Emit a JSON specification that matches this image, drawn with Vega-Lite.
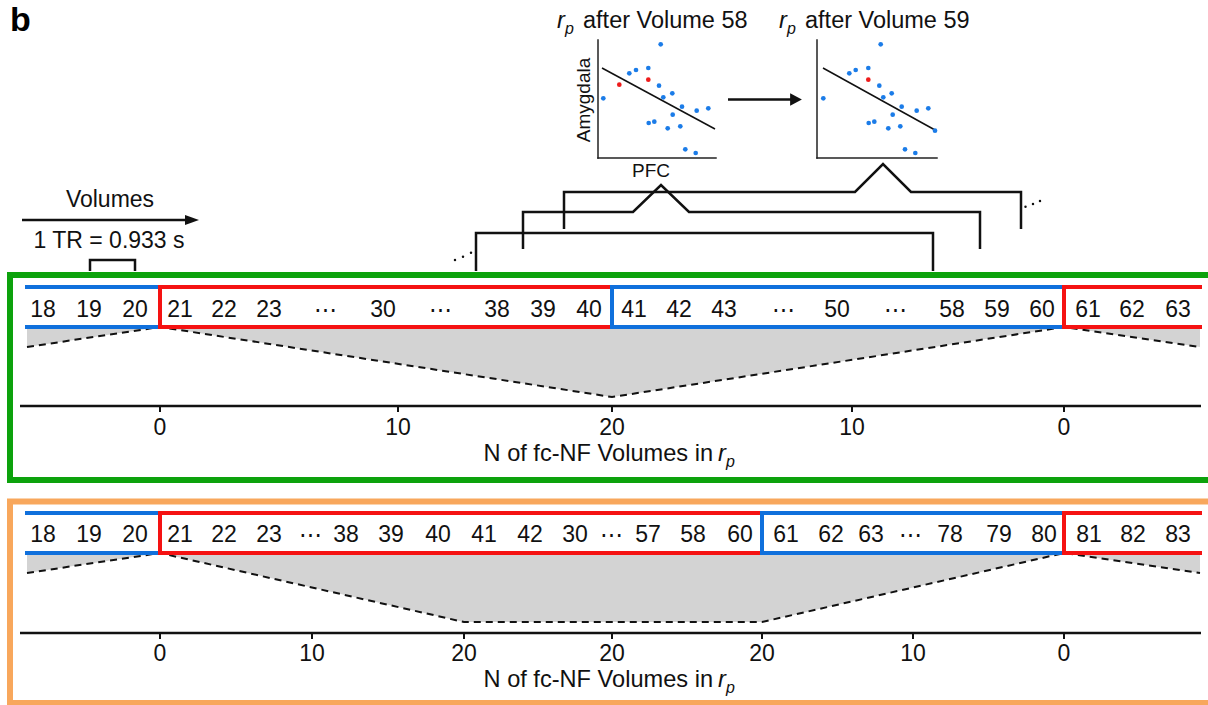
{
  "$schema": "https://vega.github.io/schema/vega-lite/v6.json",
  "width": 1208,
  "height": 705,
  "autosize": {"type": "fit", "contains": "padding"},
  "padding": 0,
  "background": "white",
  "config": {"view": {"stroke": null}, "font": "Liberation Sans"},
  "resolve": {"scale": {"color": "independent"}},
  "datasets": {
    "panels": [
      {"panel": "top", "x": 10, "x2": 1225, "y": 275, "y2": 480},
      {"panel": "bottom", "x": 10, "x2": 1225, "y": 501.5, "y2": 703}
    ],
    "blocks": [
      {"panel": "top", "block": "rest", "x": 27, "x2": 160, "y": 287, "y2": 287},
      {"panel": "top", "block": "rest", "x": 27, "x2": 160, "y": 327, "y2": 327},
      {"panel": "top", "block": "fc-NF", "x": 160, "x2": 612, "y": 287, "y2": 287},
      {"panel": "top", "block": "fc-NF", "x": 160, "x2": 612, "y": 327, "y2": 327},
      {"panel": "top", "block": "fc-NF", "x": 160, "x2": 160, "y": 287, "y2": 327},
      {"panel": "top", "block": "rest", "x": 612, "x2": 1064, "y": 287, "y2": 287},
      {"panel": "top", "block": "rest", "x": 612, "x2": 1064, "y": 327, "y2": 327},
      {"panel": "top", "block": "rest", "x": 612, "x2": 612, "y": 287, "y2": 327},
      {"panel": "top", "block": "fc-NF", "x": 1064, "x2": 1200, "y": 287, "y2": 287},
      {"panel": "top", "block": "fc-NF", "x": 1064, "x2": 1200, "y": 327, "y2": 327},
      {"panel": "top", "block": "fc-NF", "x": 1064, "x2": 1064, "y": 287, "y2": 327},
      {"panel": "bottom", "block": "rest", "x": 27, "x2": 160, "y": 513, "y2": 513},
      {"panel": "bottom", "block": "rest", "x": 27, "x2": 160, "y": 553, "y2": 553},
      {"panel": "bottom", "block": "fc-NF", "x": 160, "x2": 762, "y": 513, "y2": 513},
      {"panel": "bottom", "block": "fc-NF", "x": 160, "x2": 762, "y": 553, "y2": 553},
      {"panel": "bottom", "block": "fc-NF", "x": 160, "x2": 160, "y": 513, "y2": 553},
      {"panel": "bottom", "block": "rest", "x": 762, "x2": 1064, "y": 513, "y2": 513},
      {"panel": "bottom", "block": "rest", "x": 762, "x2": 1064, "y": 553, "y2": 553},
      {"panel": "bottom", "block": "rest", "x": 762, "x2": 762, "y": 513, "y2": 553},
      {"panel": "bottom", "block": "fc-NF", "x": 1064, "x2": 1200, "y": 513, "y2": 513},
      {"panel": "bottom", "block": "fc-NF", "x": 1064, "x2": 1200, "y": 553, "y2": 553},
      {"panel": "bottom", "block": "fc-NF", "x": 1064, "x2": 1064, "y": 513, "y2": 553}
    ],
    "gray": [
      {"panel": "top", "x": 27, "y": 347, "y0": 327},
      {"panel": "top", "x": 160, "y": 327, "y0": 327},
      {"panel": "top", "x": 612, "y": 397, "y0": 327},
      {"panel": "top", "x": 1064, "y": 327, "y0": 327},
      {"panel": "top", "x": 1200, "y": 347, "y0": 327},
      {"panel": "bottom", "x": 27, "y": 573, "y0": 553},
      {"panel": "bottom", "x": 160, "y": 553, "y0": 553},
      {"panel": "bottom", "x": 464, "y": 622, "y0": 553},
      {"panel": "bottom", "x": 762, "y": 622, "y0": 553},
      {"panel": "bottom", "x": 1064, "y": 553, "y0": 553},
      {"panel": "bottom", "x": 1200, "y": 573, "y0": 553}
    ],
    "cells": [
      {"label": "18", "x": 43, "y": 317}, {"label": "19", "x": 89, "y": 317}, {"label": "20", "x": 135, "y": 317},
      {"label": "21", "x": 180, "y": 317}, {"label": "22", "x": 224, "y": 317}, {"label": "23", "x": 269, "y": 317},
      {"label": "⋯", "x": 325, "y": 317}, {"label": "30", "x": 383, "y": 317}, {"label": "⋯", "x": 440, "y": 317},
      {"label": "38", "x": 497, "y": 317}, {"label": "39", "x": 543, "y": 317}, {"label": "40", "x": 589, "y": 317},
      {"label": "41", "x": 634, "y": 317}, {"label": "42", "x": 679, "y": 317}, {"label": "43", "x": 724, "y": 317},
      {"label": "⋯", "x": 783, "y": 317}, {"label": "50", "x": 837, "y": 317}, {"label": "⋯", "x": 895, "y": 317},
      {"label": "58", "x": 952, "y": 317}, {"label": "59", "x": 997, "y": 317}, {"label": "60", "x": 1042, "y": 317},
      {"label": "61", "x": 1088, "y": 317}, {"label": "62", "x": 1132, "y": 317}, {"label": "63", "x": 1178, "y": 317},
      {"label": "18", "x": 43, "y": 541.5}, {"label": "19", "x": 89, "y": 541.5}, {"label": "20", "x": 135, "y": 541.5},
      {"label": "21", "x": 180, "y": 541.5}, {"label": "22", "x": 224, "y": 541.5}, {"label": "23", "x": 269, "y": 541.5},
      {"label": "⋯", "x": 310, "y": 541.5}, {"label": "38", "x": 346, "y": 541.5}, {"label": "39", "x": 391, "y": 541.5},
      {"label": "40", "x": 438, "y": 541.5}, {"label": "41", "x": 484, "y": 541.5}, {"label": "42", "x": 530, "y": 541.5},
      {"label": "30", "x": 575, "y": 541.5}, {"label": "⋯", "x": 611, "y": 541.5}, {"label": "57", "x": 648, "y": 541.5},
      {"label": "58", "x": 693, "y": 541.5}, {"label": "60", "x": 740, "y": 541.5}, {"label": "61", "x": 786, "y": 541.5},
      {"label": "62", "x": 831, "y": 541.5}, {"label": "63", "x": 871, "y": 541.5}, {"label": "⋯", "x": 910, "y": 541.5},
      {"label": "78", "x": 950, "y": 541.5}, {"label": "79", "x": 999, "y": 541.5}, {"label": "80", "x": 1044, "y": 541.5},
      {"label": "81", "x": 1089, "y": 541.5}, {"label": "82", "x": 1133, "y": 541.5}, {"label": "83", "x": 1178, "y": 541.5}
    ],
    "axisLines": [
      {"x": 20, "x2": 1201, "y": 406, "y2": 406},
      {"x": 20, "x2": 1201, "y": 633, "y2": 633}
    ],
    "ticks": [
      {"x": 160, "x2": 160, "y": 406, "y2": 412, "label": "0", "ly": 435},
      {"x": 398, "x2": 398, "y": 406, "y2": 412, "label": "10", "ly": 435},
      {"x": 612, "x2": 612, "y": 406, "y2": 412, "label": "20", "ly": 435},
      {"x": 852, "x2": 852, "y": 406, "y2": 412, "label": "10", "ly": 435},
      {"x": 1064, "x2": 1064, "y": 406, "y2": 412, "label": "0", "ly": 435},
      {"x": 160, "x2": 160, "y": 633, "y2": 639, "label": "0", "ly": 661},
      {"x": 312, "x2": 312, "y": 633, "y2": 639, "label": "10", "ly": 661},
      {"x": 464, "x2": 464, "y": 633, "y2": 639, "label": "20", "ly": 661},
      {"x": 612, "x2": 612, "y": 633, "y2": 639, "label": "20", "ly": 661},
      {"x": 762, "x2": 762, "y": 633, "y2": 639, "label": "20", "ly": 661},
      {"x": 913, "x2": 913, "y": 633, "y2": 639, "label": "10", "ly": 661},
      {"x": 1064, "x2": 1064, "y": 633, "y2": 639, "label": "0", "ly": 661}
    ],
    "axisTitles": [
      {"label": "N of fc-NF Volumes in", "x": 713, "y": 461},
      {"label": "N of fc-NF Volumes in", "x": 713, "y": 687}
    ],
    "rLetters": [
      {"label": "r", "x": 718, "y": 461},
      {"label": "r", "x": 718, "y": 687},
      {"label": "r", "x": 557, "y": 28},
      {"label": "r", "x": 779, "y": 28}
    ],
    "pLetters": [
      {"label": "p", "x": 726, "y": 467},
      {"label": "p", "x": 726, "y": 693},
      {"label": "p", "x": 565, "y": 34},
      {"label": "p", "x": 787, "y": 34}
    ],
    "scatterTitles": [
      {"label": "after Volume 58", "x": 583, "y": 28},
      {"label": "after Volume 59", "x": 805, "y": 28}
    ],
    "centerTexts": [
      {"label": "Volumes", "x": 110, "y": 207},
      {"label": "1 TR = 0.933 s", "x": 109, "y": 248}
    ],
    "brackets": [
      {"id": 0, "seq": 0, "x": 90, "y": 271}, {"id": 0, "seq": 1, "x": 90, "y": 260},
      {"id": 0, "seq": 2, "x": 135, "y": 260}, {"id": 0, "seq": 3, "x": 135, "y": 271},
      {"id": 1, "seq": 0, "x": 476, "y": 271}, {"id": 1, "seq": 1, "x": 476, "y": 233},
      {"id": 1, "seq": 2, "x": 933, "y": 233}, {"id": 1, "seq": 3, "x": 933, "y": 271},
      {"id": 2, "seq": 0, "x": 523, "y": 249}, {"id": 2, "seq": 1, "x": 523, "y": 212},
      {"id": 2, "seq": 2, "x": 633, "y": 212}, {"id": 2, "seq": 3, "x": 661, "y": 185},
      {"id": 2, "seq": 4, "x": 689, "y": 212}, {"id": 2, "seq": 5, "x": 980, "y": 212},
      {"id": 2, "seq": 6, "x": 980, "y": 249},
      {"id": 3, "seq": 0, "x": 564, "y": 229}, {"id": 3, "seq": 1, "x": 564, "y": 192},
      {"id": 3, "seq": 2, "x": 855, "y": 192}, {"id": 3, "seq": 3, "x": 883, "y": 164},
      {"id": 3, "seq": 4, "x": 911, "y": 192}, {"id": 3, "seq": 5, "x": 1021, "y": 192},
      {"id": 3, "seq": 6, "x": 1021, "y": 229}
    ],
    "ellipsis": [
      {"x": 455, "y": 260}, {"x": 463, "y": 256.7}, {"x": 471, "y": 252.7},
      {"x": 1025.5, "y": 206.7}, {"x": 1033, "y": 204}, {"x": 1040, "y": 201}
    ],
    "shafts": [
      {"x": 22, "x2": 187, "y": 220, "y2": 220},
      {"x": 728, "x2": 791, "y": 99.5, "y2": 99.5}
    ],
    "headBig": [{"x": 192, "y": 220}],
    "headSmall": [{"x": 796, "y": 99.5}],
    "scatterAxes": [
      {"x": 598, "x2": 598, "y": 40, "y2": 158},
      {"x": 598, "x2": 716, "y": 158, "y2": 158},
      {"x": 817, "x2": 817, "y": 40, "y2": 158},
      {"x": 817, "x2": 937, "y": 158, "y2": 158}
    ],
    "fits": [
      {"x": 602, "x2": 715, "y": 68, "y2": 129},
      {"x": 823, "x2": 935, "y": 68, "y2": 130}
    ],
    "dots": [
      {"plot": 58, "highlight": "no", "x": 603.3, "y": 98.3},
      {"plot": 58, "highlight": "yes", "x": 619.3, "y": 84.7},
      {"plot": 58, "highlight": "no", "x": 629.3, "y": 73.3},
      {"plot": 58, "highlight": "no", "x": 636, "y": 70},
      {"plot": 58, "highlight": "no", "x": 648.3, "y": 68},
      {"plot": 58, "highlight": "yes", "x": 648.3, "y": 79.7},
      {"plot": 58, "highlight": "no", "x": 660.7, "y": 44.3},
      {"plot": 58, "highlight": "no", "x": 659, "y": 85.7},
      {"plot": 58, "highlight": "no", "x": 663.3, "y": 97.3},
      {"plot": 58, "highlight": "no", "x": 672.3, "y": 93.3},
      {"plot": 58, "highlight": "no", "x": 682, "y": 106.7},
      {"plot": 58, "highlight": "no", "x": 672.7, "y": 114.7},
      {"plot": 58, "highlight": "no", "x": 696.7, "y": 110.7},
      {"plot": 58, "highlight": "no", "x": 708.3, "y": 108.3},
      {"plot": 58, "highlight": "no", "x": 648.7, "y": 123},
      {"plot": 58, "highlight": "no", "x": 654.3, "y": 121.7},
      {"plot": 58, "highlight": "no", "x": 667.7, "y": 128.3},
      {"plot": 58, "highlight": "no", "x": 680.3, "y": 126.3},
      {"plot": 58, "highlight": "no", "x": 685.3, "y": 149.3},
      {"plot": 58, "highlight": "no", "x": 695.7, "y": 153},
      {"plot": 59, "highlight": "no", "x": 823.3, "y": 98.3},
      {"plot": 59, "highlight": "no", "x": 849.3, "y": 73.3},
      {"plot": 59, "highlight": "no", "x": 855.7, "y": 70},
      {"plot": 59, "highlight": "no", "x": 868.3, "y": 68},
      {"plot": 59, "highlight": "yes", "x": 868.3, "y": 79.7},
      {"plot": 59, "highlight": "no", "x": 880.7, "y": 44.3},
      {"plot": 59, "highlight": "no", "x": 879.3, "y": 85.7},
      {"plot": 59, "highlight": "no", "x": 883.3, "y": 97.3},
      {"plot": 59, "highlight": "no", "x": 891.7, "y": 93.3},
      {"plot": 59, "highlight": "no", "x": 901.7, "y": 106.7},
      {"plot": 59, "highlight": "no", "x": 892.7, "y": 114.7},
      {"plot": 59, "highlight": "no", "x": 916.7, "y": 110.7},
      {"plot": 59, "highlight": "no", "x": 928.3, "y": 108.3},
      {"plot": 59, "highlight": "no", "x": 868.7, "y": 123},
      {"plot": 59, "highlight": "no", "x": 874.3, "y": 121.7},
      {"plot": 59, "highlight": "no", "x": 888.3, "y": 128.3},
      {"plot": 59, "highlight": "no", "x": 900.3, "y": 126.3},
      {"plot": 59, "highlight": "no", "x": 905, "y": 149.3},
      {"plot": 59, "highlight": "no", "x": 915.3, "y": 153},
      {"plot": 59, "highlight": "no", "x": 935, "y": 130.7}
    ],
    "pfc": [{"label": "PFC", "x": 651, "y": 177}],
    "amyg": [{"label": "Amygdala", "x": 584, "y": 100}],
    "panelLetter": [{"label": "b", "x": 10, "y": 31}]
  },
  "layer": [
    {
      "data": {"name": "panels"},
      "mark": {"type": "rect", "filled": false, "strokeWidth": 6, "clip": true},
      "encoding": {
        "x": {"field": "x", "type": "quantitative", "scale": {"domain": [0, 1208], "nice": false, "zero": false}, "axis": null},
        "x2": {"field": "x2"},
        "y": {"field": "y", "type": "quantitative", "scale": {"domain": [0, 705], "reverse": true, "nice": false, "zero": false}, "axis": null},
        "y2": {"field": "y2"},
        "color": {"field": "panel", "type": "nominal", "scale": {"domain": ["top", "bottom"], "range": ["#0ca20c", "#f8a75c"]}, "legend": null}
      }
    },
    {
      "data": {"name": "gray"},
      "mark": {"type": "area", "color": "#d3d3d3"},
      "encoding": {
        "x": {"field": "x", "type": "quantitative"},
        "y": {"field": "y", "type": "quantitative"},
        "y2": {"field": "y0"},
        "detail": {"field": "panel"}
      }
    },
    {
      "data": {"name": "gray"},
      "mark": {"type": "line", "color": "#111111", "strokeWidth": 2, "strokeDash": [7, 5]},
      "encoding": {
        "x": {"field": "x", "type": "quantitative"},
        "y": {"field": "y", "type": "quantitative"},
        "detail": {"field": "panel"}
      }
    },
    {
      "data": {"name": "blocks"},
      "mark": {"type": "rule", "strokeWidth": 4, "strokeCap": "square"},
      "encoding": {
        "x": {"field": "x", "type": "quantitative"},
        "x2": {"field": "x2"},
        "y": {"field": "y", "type": "quantitative"},
        "y2": {"field": "y2"},
        "color": {"field": "block", "type": "nominal", "scale": {"domain": ["rest", "fc-NF"], "range": ["#1070dc", "#f51212"]}, "legend": null}
      }
    },
    {
      "data": {"name": "axisLines"},
      "mark": {"type": "rule", "strokeWidth": 2.5, "color": "#111111"},
      "encoding": {
        "x": {"field": "x", "type": "quantitative"},
        "x2": {"field": "x2"},
        "y": {"field": "y", "type": "quantitative"},
        "y2": {"field": "y2"}
      }
    },
    {
      "data": {"name": "ticks"},
      "mark": {"type": "rule", "strokeWidth": 2, "color": "#111111"},
      "encoding": {
        "x": {"field": "x", "type": "quantitative"},
        "x2": {"field": "x2"},
        "y": {"field": "y", "type": "quantitative"},
        "y2": {"field": "y2"}
      }
    },
    {
      "data": {"name": "ticks"},
      "mark": {"type": "text", "fontSize": 23, "align": "center", "baseline": "alphabetic", "color": "#111111"},
      "encoding": {
        "x": {"field": "x", "type": "quantitative"},
        "y": {"field": "ly", "type": "quantitative"},
        "text": {"field": "label"}
      }
    },
    {
      "data": {"name": "cells"},
      "mark": {"type": "text", "fontSize": 23, "align": "center", "baseline": "alphabetic", "color": "#111111"},
      "encoding": {
        "x": {"field": "x", "type": "quantitative"},
        "y": {"field": "y", "type": "quantitative"},
        "text": {"field": "label"}
      }
    },
    {
      "data": {"name": "axisTitles"},
      "mark": {"type": "text", "fontSize": 23.6, "align": "right", "baseline": "alphabetic", "color": "#111111"},
      "encoding": {
        "x": {"field": "x", "type": "quantitative"},
        "y": {"field": "y", "type": "quantitative"},
        "text": {"field": "label"}
      }
    },
    {
      "data": {"name": "rLetters"},
      "mark": {"type": "text", "fontSize": 23.6, "fontStyle": "italic", "align": "left", "baseline": "alphabetic", "color": "#111111"},
      "encoding": {
        "x": {"field": "x", "type": "quantitative"},
        "y": {"field": "y", "type": "quantitative"},
        "text": {"field": "label"}
      }
    },
    {
      "data": {"name": "pLetters"},
      "mark": {"type": "text", "fontSize": 16, "fontStyle": "italic", "align": "left", "baseline": "alphabetic", "color": "#111111"},
      "encoding": {
        "x": {"field": "x", "type": "quantitative"},
        "y": {"field": "y", "type": "quantitative"},
        "text": {"field": "label"}
      }
    },
    {
      "data": {"name": "scatterTitles"},
      "mark": {"type": "text", "fontSize": 23.5, "align": "left", "baseline": "alphabetic", "color": "#111111"},
      "encoding": {
        "x": {"field": "x", "type": "quantitative"},
        "y": {"field": "y", "type": "quantitative"},
        "text": {"field": "label"}
      }
    },
    {
      "data": {"name": "centerTexts"},
      "mark": {"type": "text", "fontSize": 23, "align": "center", "baseline": "alphabetic", "color": "#111111"},
      "encoding": {
        "x": {"field": "x", "type": "quantitative"},
        "y": {"field": "y", "type": "quantitative"},
        "text": {"field": "label"}
      }
    },
    {
      "data": {"name": "brackets"},
      "mark": {"type": "line", "color": "#111111", "strokeWidth": 2.5, "strokeJoin": "miter"},
      "encoding": {
        "x": {"field": "x", "type": "quantitative"},
        "y": {"field": "y", "type": "quantitative"},
        "detail": {"field": "id"},
        "order": {"field": "seq"}
      }
    },
    {
      "data": {"name": "ellipsis"},
      "mark": {"type": "point", "filled": true, "size": 6, "color": "#111111", "opacity": 1},
      "encoding": {
        "x": {"field": "x", "type": "quantitative"},
        "y": {"field": "y", "type": "quantitative"}
      }
    },
    {
      "data": {"name": "shafts"},
      "mark": {"type": "rule", "strokeWidth": 2.5, "color": "#111111"},
      "encoding": {
        "x": {"field": "x", "type": "quantitative"},
        "x2": {"field": "x2"},
        "y": {"field": "y", "type": "quantitative"},
        "y2": {"field": "y2"}
      }
    },
    {
      "data": {"name": "headBig"},
      "mark": {"type": "point", "filled": true, "opacity": 1, "color": "#111111", "shape": "M-1,-0.72L1,0L-1,0.72Z", "size": 196},
      "encoding": {
        "x": {"field": "x", "type": "quantitative"},
        "y": {"field": "y", "type": "quantitative"}
      }
    },
    {
      "data": {"name": "headSmall"},
      "mark": {"type": "point", "filled": true, "opacity": 1, "color": "#111111", "shape": "M-1,-1.08L1,0L-1,1.08Z", "size": 137},
      "encoding": {
        "x": {"field": "x", "type": "quantitative"},
        "y": {"field": "y", "type": "quantitative"}
      }
    },
    {
      "data": {"name": "scatterAxes"},
      "mark": {"type": "rule", "strokeWidth": 1.5, "color": "#222222", "strokeCap": "square"},
      "encoding": {
        "x": {"field": "x", "type": "quantitative"},
        "x2": {"field": "x2"},
        "y": {"field": "y", "type": "quantitative"},
        "y2": {"field": "y2"}
      }
    },
    {
      "data": {"name": "fits"},
      "mark": {"type": "rule", "strokeWidth": 1.5, "color": "#111111"},
      "encoding": {
        "x": {"field": "x", "type": "quantitative"},
        "x2": {"field": "x2"},
        "y": {"field": "y", "type": "quantitative"},
        "y2": {"field": "y2"}
      }
    },
    {
      "data": {"name": "dots"},
      "mark": {"type": "point", "filled": true, "opacity": 1, "size": 22, "shape": "circle"},
      "encoding": {
        "x": {"field": "x", "type": "quantitative"},
        "y": {"field": "y", "type": "quantitative"},
        "color": {"field": "highlight", "type": "nominal", "scale": {"domain": ["no", "yes"], "range": ["#1b7ce8", "#ee1b1b"]}, "legend": null}
      }
    },
    {
      "data": {"name": "pfc"},
      "mark": {"type": "text", "fontSize": 19, "align": "center", "baseline": "alphabetic", "color": "#111111"},
      "encoding": {
        "x": {"field": "x", "type": "quantitative"},
        "y": {"field": "y", "type": "quantitative"},
        "text": {"field": "label"}
      }
    },
    {
      "data": {"name": "amyg"},
      "mark": {"type": "text", "fontSize": 19, "align": "center", "baseline": "middle", "angle": 270, "color": "#111111"},
      "encoding": {
        "x": {"field": "x", "type": "quantitative"},
        "y": {"field": "y", "type": "quantitative"},
        "text": {"field": "label"}
      }
    },
    {
      "data": {"name": "panelLetter"},
      "mark": {"type": "text", "fontSize": 34, "fontWeight": "bold", "align": "left", "baseline": "alphabetic", "color": "#000000"},
      "encoding": {
        "x": {"field": "x", "type": "quantitative"},
        "y": {"field": "y", "type": "quantitative"},
        "text": {"field": "label"}
      }
    }
  ]
}
